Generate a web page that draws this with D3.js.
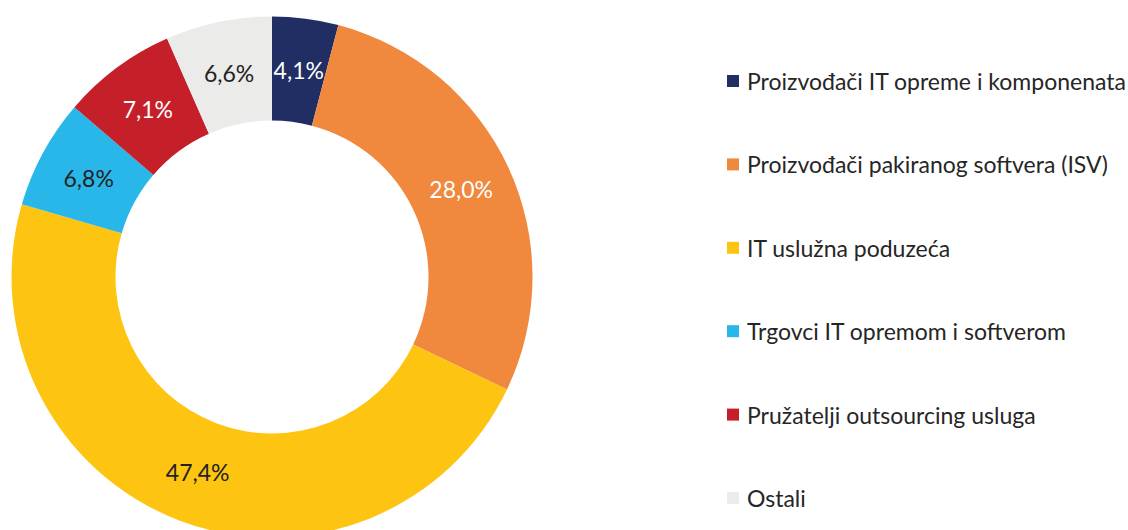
<!DOCTYPE html>
<html>
<head>
<meta charset="utf-8">
<script src="https://cdn.jsdelivr.net/npm/d3@7"></script>
<style>
  html, body { margin: 0; padding: 0; background: #fff; }
  svg { display: block; }
</style>
</head>
<body>
<svg id="chart" width="1128" height="530"></svg>
<script>
const categories = [
  "Proizvođači IT opreme i komponenata",
  "Proizvođači pakiranog softvera (ISV)",
  "IT uslužna poduzeća",
  "Trgovci IT opremom i softverom",
  "Pružatelji outsourcing usluga",
  "Ostali"
];
const values = [4.1, 28.0, 47.4, 6.8, 7.1, 6.6];
const labels = ["4,1%", "28,0%", "47,4%", "6,8%", "7,1%", "6,6%"];
const colors = ["#212E63", "#F0883E", "#FDC511", "#29B7E9", "#C5202A", "#EBEBE9"];
const labelColors = ["#ffffff", "#ffffff", "#222222", "#222222", "#ffffff", "#222222"];

const svg = d3.select("#chart");
const cx = 272, cy = 277, outerR = 260.5, innerR = 156.5;

const data = categories.map((c, i) => ({ name: c, value: values[i], label: labels[i], color: colors[i], lc: labelColors[i] }));

const pie = d3.pie().value(d => d.value).sort(null);
const arc = d3.arc().innerRadius(innerR).outerRadius(outerR);
const arcs = pie(data);

const g = svg.append("g").attr("transform", `translate(${cx},${cy})`);
g.selectAll("path").data(arcs).join("path")
  .attr("d", arc)
  .attr("fill", d => d.data.color);

g.selectAll("text").data(arcs).join("text")
  .attr("transform", d => `translate(${arc.centroid(d)})`)
  .attr("text-anchor", "middle")
  .attr("dominant-baseline", "central")
  .attr("font-family", "Lato, 'Open Sans', sans-serif")
  .attr("font-size", 23)
  .attr("fill", d => d.data.lc)
  .text(d => d.data.label);

const legendY = d3.scalePoint().domain(categories).range([81, 498]);
const lg = svg.append("g");
const items = lg.selectAll("g").data(data).join("g")
  .attr("transform", d => `translate(727,${legendY(d.name)})`);
items.append("rect")
  .attr("x", 0).attr("y", -6).attr("width", 12).attr("height", 12)
  .attr("fill", d => d.color);
items.append("text")
  .attr("x", 20).attr("y", 0)
  .attr("dominant-baseline", "central")
  .attr("font-family", "Lato, 'Open Sans', sans-serif")
  .attr("font-size", 23)
  .attr("fill", "#262626")
  .text(d => d.name);
</script>
</body>
</html>
